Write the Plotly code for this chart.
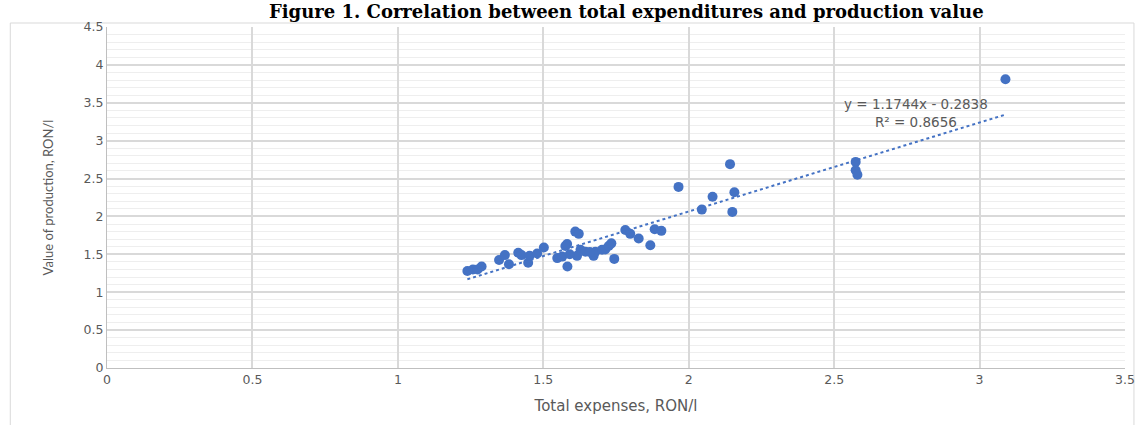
import plotly.graph_objects as go

expenses = [1.239, 1.258, 1.274, 1.288, 1.348, 1.368, 1.382, 1.414, 1.425, 1.448,
            1.453, 1.479, 1.502, 1.548, 1.565, 1.576, 1.582, 1.583, 1.610, 1.622,
            1.616, 1.628, 1.645, 1.673, 1.679, 1.702, 1.713, 1.725, 1.734, 1.744,
            1.782, 1.799, 1.828, 1.868, 1.883, 1.906, 1.965, 2.045, 2.082, 2.142,
            2.157, 2.150, 2.574, 2.574, 2.580, 3.089, 1.591, 1.660]
production = [1.28, 1.30, 1.30, 1.34, 1.425, 1.49, 1.37, 1.52, 1.49, 1.39,
              1.48, 1.51, 1.59, 1.45, 1.47, 1.61, 1.635, 1.34, 1.80, 1.77,
              1.48, 1.56, 1.535, 1.48, 1.535, 1.56, 1.565, 1.61, 1.645, 1.44,
              1.82, 1.77, 1.71, 1.62, 1.83, 1.81, 2.39, 2.09, 2.26, 2.69,
              2.32, 2.06, 2.72, 2.61, 2.55, 3.81, 1.50, 1.53]

slope = 1.1744
intercept = -0.2838
equation_text = "y = 1.1744x - 0.2838<br>R² = 0.8656"

x_ticks = [0, 0.5, 1, 1.5, 2, 2.5, 3, 3.5]
x_tick_labels = ["0", "0.5", "1", "1.5", "2", "2.5", "3", "3.5"]
y_ticks = [0, 0.5, 1, 1.5, 2, 2.5, 3, 3.5, 4, 4.5]
y_tick_labels = ["0", "0.5", "1", "1.5", "2", "2.5", "3", "3.5", "4", "4.5"]

title_text = "Figure 1. Correlation between total expenditures and production value"
x_title = "Total expenses, RON/l"
y_title = "Value of production, RON/l"

blue = "#4472C4"
grey_text = "#595959"
wide_font = "DejaVu Sans, sans-serif"
narrow_font = "Lato, Open Sans, sans-serif"

xmin, xmax = min(expenses), max(expenses)
trend_x = [xmin, xmax]
trend_y = [slope * v + intercept for v in trend_x]

fig = go.Figure()
fig.add_trace(go.Scatter(
    x=expenses, y=production, mode="markers",
    marker=dict(color=blue, size=10, line=dict(width=0)),
    showlegend=False, hoverinfo="x+y"))
fig.add_trace(go.Scatter(
    x=trend_x, y=trend_y, mode="lines",
    line=dict(color=blue, width=2, dash="dot"),
    showlegend=False, hoverinfo="skip"))

fig.add_annotation(
    x=2.78, y=(368 - 113) / 75.78, xref="x", yref="y", text=equation_text, showarrow=False,
    font=dict(family=wide_font, size=13.5, color=grey_text), align="center",
    xanchor="center", yanchor="middle")

fig.add_annotation(
    x=0.51, y=1.0792, xref="paper", yref="paper", text="<b>" + title_text + "</b>",
    showarrow=False, font=dict(family="DejaVu Serif, serif", size=18, color="black"),
    xanchor="center", yanchor="top", borderpad=0)

# outer chart border
fig.add_shape(type="rect", xref="paper", yref="paper",
              x0=-0.095, x1=1.0088, y0=-0.2, y1=(368 - 23) / 341,
              line=dict(color="#d9d9d9", width=1), fillcolor="rgba(0,0,0,0)", layer="below")

fig.update_xaxes(
    range=[0, 3.5], tickvals=x_ticks, ticktext=x_tick_labels,
    showgrid=True, gridcolor="#d9d9d9", gridwidth=1.5,
    zeroline=False, showline=True, linecolor="#bfbfbf", linewidth=1,
    ticks="", tickfont=dict(family=wide_font, size=12.5, color=grey_text),
    title=dict(text=x_title, font=dict(family=wide_font, size=15, color=grey_text), standoff=14))
fig.update_yaxes(
    range=[0, 4.5], tickvals=y_ticks, ticktext=y_tick_labels,
    showgrid=True, gridcolor="#d9d9d9", gridwidth=1.5,
    minor=dict(dtick=0.1, showgrid=True, gridcolor="#eeeeee", gridwidth=1),
    zeroline=False, showline=True, linecolor="#bfbfbf", linewidth=1,
    ticks="", tickfont=dict(family=wide_font, size=12.5, color=grey_text),
    title=dict(text=y_title, font=dict(family=narrow_font, size=13, color=grey_text), standoff=27))

fig.update_layout(
    width=1147, height=425,
    margin=dict(l=107, r=19, t=27, b=57),
    paper_bgcolor="white", plot_bgcolor="white",
    showlegend=False)

fig.write_html("out.html", config={"displayModeBar": False},
               post_script="document.body.style.margin='0';")
